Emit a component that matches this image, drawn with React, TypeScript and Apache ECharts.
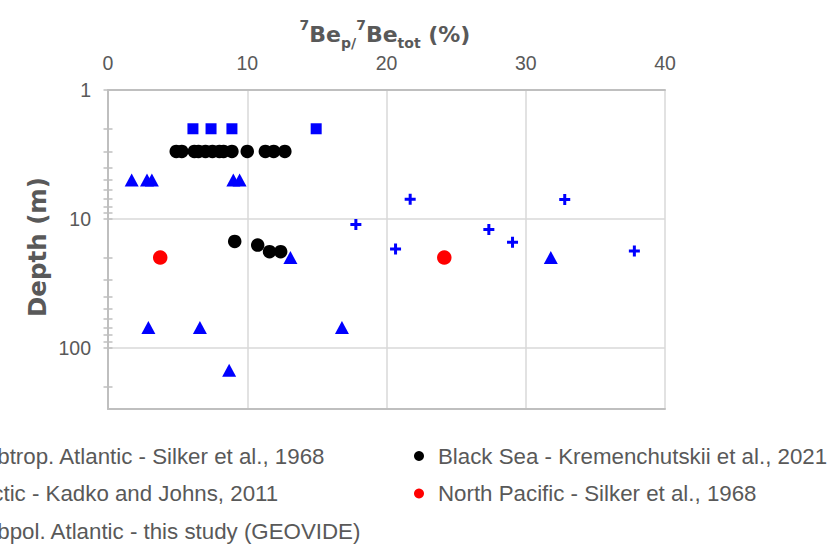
import React, { useEffect, useRef } from "react";
import * as echarts from "echarts";

// ---- data (x = 7Be_p / 7Be_tot in %, y = depth in m) ----
const subtropX = [1.7, 2.8, 3.15, 9.0, 9.45, 13.1, 31.8, 2.9, 6.6, 16.8, 8.7];
const subtropDepth = [5, 5, 5, 5, 5, 20, 20, 70, 70, 70, 150];

const arcticX = [6.1, 7.4, 8.9, 14.95];
const arcticDepth = [2, 2, 2, 2];

const geovideX = [17.8, 21.7, 32.8, 27.35, 29.05, 20.65, 37.8];
const geovideDepth = [11.1, 7.05, 7.1, 12.1, 15.2, 17.2, 17.8];

const blackSeaX = [4.9, 5.3, 6.2, 6.5, 7.0, 7.5, 8.0, 8.3, 8.9, 10.0, 11.3, 11.9, 12.7, 9.1, 10.75, 11.6, 12.4];
const blackSeaDepth = [3, 3, 3, 3, 3, 3, 3, 3, 3, 3, 3, 3, 3, 15, 16, 18, 18];

const pacificX = [3.75, 24.15];
const pacificDepth = [20, 20];

const seriesNames = [
  "Subtrop. Atlantic - Silker et al., 1968",
  "Arctic - Kadko and Johns, 2011",
  "Subpol. Atlantic - this study (GEOVIDE)",
  "Black Sea - Kremenchutskii et al., 2021",
  "North Pacific - Silker et al., 1968",
];

// axis settings
const xMin = 0;
const xMax = 40;
const xStep = 10;
const depthMin = 1;
const depthMax = 300;
const depthTickValues = [1, 2, 3, 4, 5, 6, 7, 8, 9, 10, 20, 30, 40, 50, 60, 70, 80, 90, 100, 200];

const TEXT = "#595959";
const AXIS = "#bfbfbf";
const GRID = "#d9d9d9";
const FONT = "Liberation Sans";
const BOLD_FONT = "DejaVu Sans";

const zip = (xs: number[], ys: number[]) => xs.map((x, i) => [x, ys[i]]);

const crossPath = "path://M4,0H7V4H11V7H7V11H4V7H0V4H4Z";

export default function App() {
  const ref = useRef<HTMLDivElement>(null);

  useEffect(() => {
    if (!ref.current) return;
    const chart = echarts.init(ref.current, undefined, { renderer: "svg" });

    const tickAxis = (inside: boolean) => ({
      type: "value",
      position: "left",
      min: 0,
      max: Math.log10(depthMax),
      inverse: true,
      axisLine: { show: false, onZero: false },
      axisLabel: { show: false },
      splitLine: { show: false },
      axisTick: {
        show: true,
        inside,
        length: 4.5,
        lineStyle: { color: AXIS, width: 1.5 },
        customValues: depthTickValues.map((v) => Math.log10(v)),
      },
    });

    const legendText = { color: TEXT, fontFamily: FONT, fontSize: 22.3 };

    const option: any = {
      animation: false,
      backgroundColor: "#ffffff",
      grid: { left: 108, right: 164, top: 90, bottom: 141, containLabel: false },
      xAxis: [
        {
          type: "value",
          position: "top",
          min: xMin,
          max: xMax,
          interval: xStep,
          axisLine: { show: true, onZero: false, lineStyle: { color: AXIS, width: 2 } },
          axisTick: { show: false },
          axisLabel: { color: TEXT, fontFamily: FONT, fontSize: 19.5, margin: 17 },
          splitLine: { show: true, lineStyle: { color: GRID, width: 1.5 } },
        },
        {
          type: "value",
          position: "bottom",
          min: xMin,
          max: xMax,
          interval: xStep,
          axisLine: { show: true, onZero: false, lineStyle: { color: AXIS, width: 2 } },
          axisTick: { show: false },
          axisLabel: { show: false },
          splitLine: { show: false },
        },
      ],
      yAxis: [
        {
          type: "log",
          logBase: 10,
          min: depthMin,
          max: depthMax,
          inverse: true,
          position: "left",
          axisLine: { show: true, onZero: false, lineStyle: { color: AXIS, width: 2 } },
          axisTick: { show: false },
          axisLabel: {
            color: TEXT,
            fontFamily: FONT,
            fontSize: 19.5,
            margin: 17,
            formatter: (v: number) => {
              const l = Math.log10(v);
              return Math.abs(l - Math.round(l)) < 1e-6 ? String(Math.round(v)) : "";
            },
          },
          splitLine: { show: true, lineStyle: { color: GRID, width: 1.5 } },
        },
        tickAxis(false),
        tickAxis(true),
      ],
      legend: [
        {
          orient: "vertical",
          left: -63,
          top: 445,
          padding: 0,
          itemGap: 15.5,
          itemWidth: 28,
          itemHeight: 10,
          textStyle: legendText,
          data: seriesNames.slice(0, 3),
        },
        {
          orient: "vertical",
          left: 414,
          top: 445,
          padding: 0,
          itemGap: 15.5,
          itemWidth: 28,
          itemHeight: 10,
          textStyle: legendText,
          data: seriesNames.slice(3),
        },
      ],
      graphic: [
        {
          type: "text",
          x: 385,
          y: 18.4,
          style: {
            text: "{sup|7}{main|Be}{sub|p/}{sup|7}{main|Be}{sub|tot}{main| (%)}",
            align: "center",
            verticalAlign: "top",
            fill: TEXT,
            rich: {
              main: { fontSize: 22, fontFamily: BOLD_FONT, fontWeight: "bold", fill: TEXT, lineHeight: 32, verticalAlign: "middle" },
              sup: { fontSize: 14, fontFamily: BOLD_FONT, fontWeight: "bold", fill: TEXT, lineHeight: 10, verticalAlign: "top" },
              sub: { fontSize: 14, fontFamily: BOLD_FONT, fontWeight: "bold", fill: TEXT, lineHeight: 24, verticalAlign: "bottom" },
            },
          },
        },
        {
          type: "text",
          x: 37,
          y: 247,
          rotation: Math.PI / 2,
          style: {
            text: "Depth (m)",
            align: "center",
            verticalAlign: "middle",
            fill: TEXT,
            fontSize: 24.5,
            fontFamily: BOLD_FONT,
            fontWeight: "bold",
          },
        },
      ],
      series: [
        {
          type: "scatter",
          name: seriesNames[0],
          data: zip(subtropX, subtropDepth),
          symbol: "triangle",
          symbolSize: [14, 13],
          itemStyle: { color: "#0000ff", opacity: 1 },
          clip: false,
        },
        {
          type: "scatter",
          name: seriesNames[1],
          data: zip(arcticX, arcticDepth),
          symbol: "rect",
          symbolSize: 11,
          itemStyle: { color: "#0000ff", opacity: 1 },
          clip: false,
        },
        {
          type: "scatter",
          name: seriesNames[2],
          data: zip(geovideX, geovideDepth),
          symbol: crossPath,
          symbolSize: 11,
          itemStyle: { color: "#0000ff", opacity: 1 },
          clip: false,
        },
        {
          type: "scatter",
          name: seriesNames[3],
          data: zip(blackSeaX, blackSeaDepth),
          symbol: "circle",
          symbolSize: 13.5,
          itemStyle: { color: "#000000", opacity: 1 },
          clip: false,
        },
        {
          type: "scatter",
          name: seriesNames[4],
          data: zip(pacificX, pacificDepth),
          symbol: "circle",
          symbolSize: 14.5,
          itemStyle: { color: "#ff0000", opacity: 1 },
          clip: false,
        },
      ],
    };

    chart.setOption(option);
    return () => chart.dispose();
  }, []);

  return (
    <div
      ref={ref}
      style={{ position: "absolute", left: 0, top: 0, width: 829, height: 550, background: "#fff" }}
    />
  );
}
